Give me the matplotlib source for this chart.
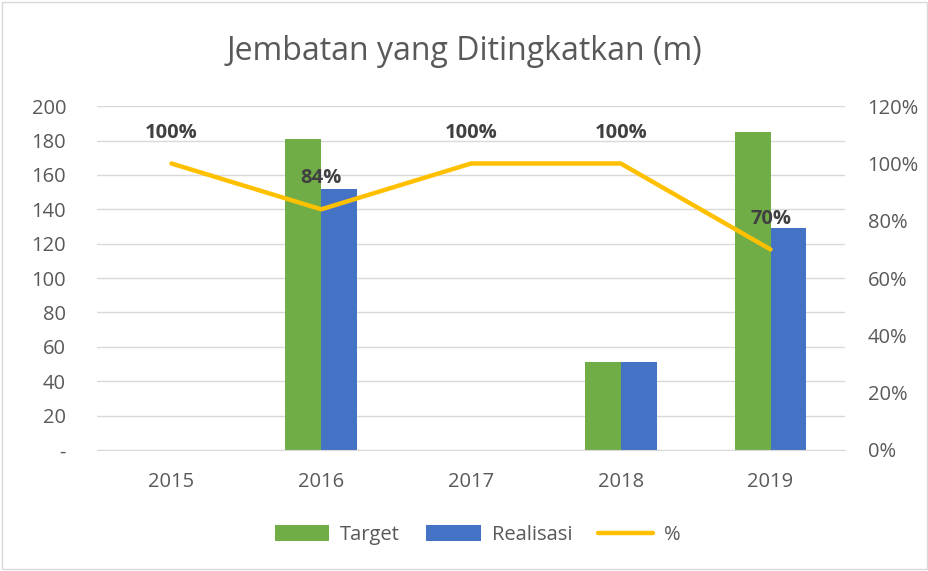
import matplotlib.pyplot as plt
import numpy as np

years = ["2015", "2016", "2017", "2018", "2019"]
target = [0, 181, 0, 51, 185]
realisasi = [0, 152, 0, 51, 129]
persen = [100, 84, 100, 100, 70]

plt.rcParams['font.family'] = ['Open Sans', 'DejaVu Sans']

fig = plt.figure(figsize=(9.29, 5.71), dpi=100)
ax = fig.add_axes([0.104, 0.212, 0.806, 0.602])
ax2 = ax.twinx()

x = np.arange(len(years))
w = 0.24
ax.bar(x - w/2, target, w, color='#70AD47', label='Target', zorder=2)
ax.bar(x + w/2, realisasi, w, color='#4472C4', label='Realisasi', zorder=2)
ax2.plot(x, persen, color='#FFC000', lw=3.2, label='%', solid_capstyle='round', zorder=3)

for xi, p in zip(x, persen):
	ax2.annotate(f"{p}%", (xi, p), xytext=(0, 15), textcoords='offset points',
		ha='center', va='bottom', fontsize=14.5, fontweight='bold', color='#404040')

ax.set_xlim(-0.5, len(years) - 0.5)
ax.set_ylim(0, 200)
ax2.set_ylim(0, 120)
ax.set_yticks(range(0, 201, 20))
ax.set_yticklabels(['-'] + [str(v) for v in range(20, 201, 20)])
ax2.set_yticks(range(0, 121, 20))
ax2.set_yticklabels([f"{v}%" for v in range(0, 121, 20)])
ax.set_xticks(x)
ax.set_xticklabels(years)

for a in (ax, ax2):
	for s in a.spines.values():
		s.set_visible(False)
	a.tick_params(length=0, labelsize=14.5, labelcolor='#595959')
ax.tick_params(axis='y', pad=22)
ax2.tick_params(axis='y', pad=16)
ax.tick_params(axis='x', pad=16)
ax.yaxis.grid(True, color='#D9D9D9', lw=1, zorder=0)
ax.set_axisbelow(True)
ax.spines['bottom'].set_visible(True)
ax.spines['bottom'].set_color('#D9D9D9')

fig.text(0.5, 0.909, "Jembatan yang Ditingkatkan (m)", ha='center', va='center',
	fontsize=23, color='#595959')

h1, l1 = ax.get_legend_handles_labels()
h2, l2 = ax2.get_legend_handles_labels()
fig.legend(h1 + h2, l1 + l2, loc='center', bbox_to_anchor=(0.514, 0.063), ncol=3,
	frameon=False, fontsize=14.5, labelcolor='#595959', handlelength=2.7,
	handleheight=0.78, columnspacing=1.3, handletextpad=0.55)

fig.patches.append(plt.Rectangle((0.002, 0.004), 0.996, 0.992, transform=fig.transFigure,
	fill=False, edgecolor='#D9D9D9', lw=1))

fig.savefig('out.png', dpi=100)
